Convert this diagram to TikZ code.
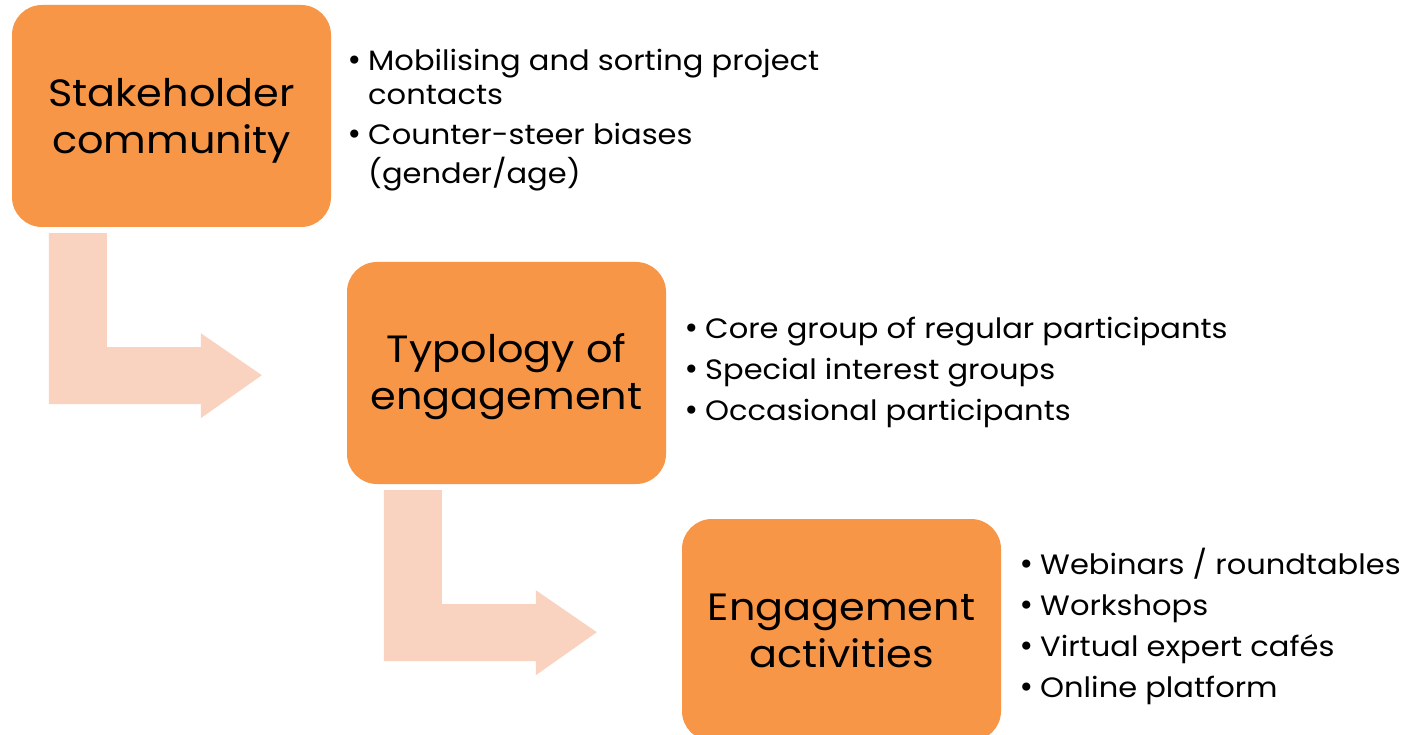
\documentclass[tikz,border=0pt]{standalone}
\usepackage{fontspec}
\setmainfont{Poppins}[FakeStretch=1.09]
\newfontfamily\bulfont{DejaVu Sans}
\definecolor{boxorange}{HTML}{F79646}
\definecolor{arrowpeach}{HTML}{F9D3BF}
\newcommand{\titlefnt}{\fontsize{38}{47}\selectfont}
\newcommand{\bul}{\makebox[23pt][l]{\hspace{1pt}{\bulfont •}}}
\begin{document}
\begin{tikzpicture}[x=1pt,y=-1pt,
  stagebox/.style={fill=boxorange, rounded corners=30pt, minimum width=319pt,
    minimum height=222pt, inner sep=0pt},
  titletext/.style={align=center, inner sep=0pt, font=\titlefnt},
  bentarrow/.style={fill=arrowpeach},
  bullets/.style={anchor=west, inner sep=0pt, align=left}]
\clip (0,0) rectangle (1408,735);
\fill[white] (0,0) rectangle (1408,735);
% boxes
\node[stagebox] (s1) at (171.5,116) {};
\node[stagebox] (s2) at (506.5,373) {};
\node[stagebox] (s3) at (841.5,630) {};
\node[titletext] (t1) at ([yshift=-5pt]s1.center) {Stakeholder\\community};
\node[titletext] (t2) at ([yshift=-4pt]s2.center) {Typology of\\engagement};
\node[titletext] (t3) at ([yshift=-1pt]s3.center) {Engagement\\activities};
% bent arrows
\foreach \b in {s1,s2}{
  \path[bentarrow, shift={(\b.south west)}]
    (37,6) -- (95,6) -- (95,120) -- (189,120) -- (189,106) -- (250,148)
    -- (189,191) -- (189,177) -- (37,177) -- cycle;
}
% bullet lists
\node[bullets] (l1) at (345,120) {\fontsize{28}{34}\selectfont
  \begin{tabular}{@{}l@{}l@{}}
  \bul & Mobilising and sorting project\\
       & contacts\\[6pt]
  \bul & Counter-steer biases\\[3pt]
       & (gender/age)
  \end{tabular}};
\node[bullets] (l2) at (682,371) {\fontsize{28}{41}\selectfont
  \begin{tabular}{@{}l@{}l@{}}
  \bul & Core group of regular participants\\
  \bul & Special interest groups\\
  \bul & Occasional participants
  \end{tabular}};
\node[bullets] (l3) at (1017,628) {\fontsize{28}{41}\selectfont
  \begin{tabular}{@{}l@{}l@{}}
  \bul & Webinars / roundtables\\
  \bul & Workshops\\
  \bul & Virtual expert cafés\\
  \bul & Online platform
  \end{tabular}};
\end{tikzpicture}
\end{document}
